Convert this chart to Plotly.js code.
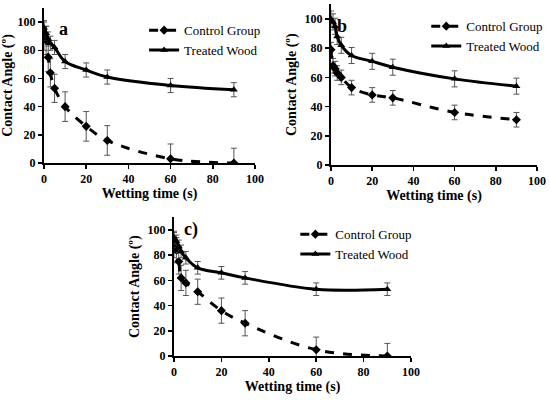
<!DOCTYPE html>
<html>
<head>
<meta charset="utf-8">
<script src="https://cdn.plot.ly/plotly-3.0.1.min.js"></script>
<style>html,body{margin:0;padding:0;background:#fff;}#chart{width:550px;height:400px;}</style>
</head>
<body>
<div id="chart"></div>
<script>
// Wetting time (s)
const timeA = [0, 1, 2, 3, 5, 10, 20, 30, 60, 90];
const timeB = [0, 1, 2, 3, 5, 10, 20, 30, 60, 90];
const timeC = [0, 1, 2, 3, 5, 10, 20, 30, 60, 90];
// Panel a
const controlA = [90, 87, 75, 64, 53, 40, 26, 16, 3, 0];
const controlErrA = [10, 10, 10, 10, 10, 10.5, 10.5, 10.5, 10.5, 10.5];
const treatedA = [96, 92, 88, 85, 82, 72, 66, 61, 55, 52];
const treatedErrA = [5, 5, 5, 5, 5, 5, 5, 5, 5, 5];
// Panel b
const controlB = [79, 68, 66, 63, 60, 53, 48, 46, 36, 31];
const controlErrB = [5, 5, 5, 5, 5, 5, 5, 5, 5, 5];
const treatedB = [100, 98, 95, 88, 82, 75, 71, 67, 59, 54];
const treatedErrB = [5.5, 5.5, 5.5, 5.5, 5.5, 5.5, 5.5, 5.5, 5.5, 5.5];
// Panel c
const controlC = [88, 84, 75, 62, 58, 51, 36, 26, 5, 0];
const controlErrC = [10, 10, 10, 10, 10, 10, 10, 10, 10, 10];
const treatedC = [94, 91, 87, 83, 78, 70, 66, 62, 53, 53];
const treatedErrC = [5, 5, 5, 5, 5, 5, 5, 5, 5, 5];
const seriesNames = ["Control Group", "Treated Wood"];
const panelLabels = ["a", "b", "c)"];
const tickVals = [0, 20, 40, 60, 80, 100];

const serif = "Liberation Serif";

function ctrl(x, y, e, xa, ya, leg) {
  return {
    x: x, y: y, xaxis: xa, yaxis: ya, legend: leg, name: seriesNames[0],
    type: "scatter", mode: "lines+markers",
    line: {color: "#000", width: 3, dash: "dash", shape: "spline", smoothing: 1},
    marker: {symbol: "diamond", size: 7, color: "#000"},
    error_y: {type: "data", array: e, visible: true, color: "#555", thickness: 1, width: 3}
  };
}
function trt(x, y, e, xa, ya, leg) {
  return {
    x: x, y: y, xaxis: xa, yaxis: ya, legend: leg, name: seriesNames[1],
    type: "scatter", mode: "lines+markers",
    line: {color: "#000", width: 3, shape: "spline", smoothing: 1},
    marker: {symbol: "triangle-up", size: 7, color: "#000"},
    error_y: {type: "data", array: e, visible: true, color: "#555", thickness: 1, width: 3}
  };
}

const data = [
  ctrl(timeA, controlA, controlErrA, "x", "y", "legend"),
  trt(timeA, treatedA, treatedErrA, "x", "y", "legend"),
  ctrl(timeB, controlB, controlErrB, "x2", "y2", "legend2"),
  trt(timeB, treatedB, treatedErrB, "x2", "y2", "legend2"),
  ctrl(timeC, controlC, controlErrC, "x3", "y3", "legend3"),
  trt(timeC, treatedC, treatedErrC, "x3", "y3", "legend3")
];

function xax(dom, anchor) {
  return {
    domain: dom, anchor: anchor, range: [0, 100], tickvals: tickVals,
    showline: true, linecolor: "#000", linewidth: 2, ticks: "outside", ticklen: 4,
    tickwidth: 1.5, tickcolor: "#000", showgrid: false, zeroline: false,
    tickfont: {family: serif, size: 12, color: "#000", weight: "bold"},
    title: {text: "<b>Wetting time (s)</b>", font: {family: serif, size: 14, color: "#000"}, standoff: 3}
  };
}
function yax(dom, anchor) {
  return {
    domain: dom, anchor: anchor, range: [0, 110], tickvals: tickVals,
    showline: true, linecolor: "#000", linewidth: 2, ticks: "outside", ticklen: 4,
    tickwidth: 1.5, tickcolor: "#000", showgrid: false, zeroline: false,
    tickfont: {family: serif, size: 12, color: "#000", weight: "bold"},
    title: {text: "<b>Contact Angle (º)</b>", font: {family: serif, size: 14, color: "#000"}, standoff: 5}
  };
}
function leg(x, y) {
  return {x: x, y: y, xanchor: "left", yanchor: "top", bgcolor: "rgba(0,0,0,0)",
    font: {family: serif, size: 13, color: "#000"}, tracegroupgap: 0, itemwidth: 30};
}

const layout = {
  width: 550, height: 400, margin: {l: 0, r: 0, t: 0, b: 0},
  paper_bgcolor: "#fff", plot_bgcolor: "#fff", showlegend: true,
  font: {family: serif, color: "#000"},
  xaxis: xax([0.08, 0.4636], "y"),
  yaxis: yax([0.5925, 0.98], "x"),
  xaxis2: xax([0.6018, 0.9764], "y2"),
  yaxis2: yax([0.5875, 0.989], "x2"),
  xaxis3: xax([0.3164, 0.7473], "y3"),
  yaxis3: yax([0.11, 0.4565], "x3"),
  legend: leg(0.262, 0.962),
  legend2: leg(0.775, 0.972),
  legend3: leg(0.537, 0.452),
  annotations: [
    {text: "<b>" + panelLabels[0] + "</b>", xref: "paper", yref: "paper", x: 57/550, y: 1-17/400, showarrow: false, font: {family: serif, size: 18, color: "#000"}},
    {text: "<b>" + panelLabels[1] + "</b>", xref: "paper", yref: "paper", x: 342/550, y: 1-14/400, showarrow: false, font: {family: serif, size: 18, color: "#000"}},
    {text: "<b>" + panelLabels[2] + "</b>", xref: "paper", yref: "paper", x: 191/550, y: 1-229/400, showarrow: false, font: {family: serif, size: 18, color: "#000"}}
  ]
};

Plotly.newPlot("chart", data, layout, {staticPlot: true, displayModeBar: false});
</script>
</body>
</html>
